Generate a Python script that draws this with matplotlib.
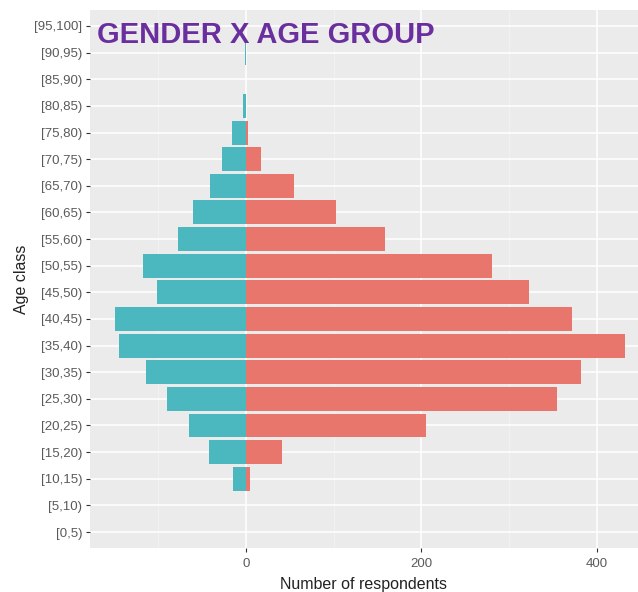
import matplotlib
matplotlib.use("Agg")
import matplotlib.pyplot as plt
import numpy as np

age_classes = ["[0,5)", "[5,10)", "[10,15)", "[15,20)", "[20,25)", "[25,30)", "[30,35)",
               "[35,40)", "[40,45)", "[45,50)", "[50,55)", "[55,60)", "[60,65)", "[65,70)",
               "[70,75)", "[75,80)", "[80,85)", "[85,90)", "[90,95)", "[95,100]"]
male = [0, 0, 15, 42, 65, 90, 114, 145, 150, 102, 117, 78, 61, 41, 27, 16, 3, 0, 1, 0]
female = [0, 0, 5, 41, 205, 355, 382, 432, 372, 323, 281, 159, 103, 55, 17, 2, 0, 0, 0, 0]
x_ticks = [0, 200, 400]
title = "GENDER X AGE GROUP"

plt.rcParams['font.family'] = ['Liberation Sans', 'DejaVu Sans']

fig = plt.figure(figsize=(6.38, 5.92), dpi=100)
W, H = 638, 592
left, right, top, bottom = 90, 638, 10, 548
ax = fig.add_axes([left / W, 1 - bottom / H, (right - left) / W, (bottom - top) / H])
ax.set_facecolor("#EBEBEB")

y = np.arange(len(age_classes))
ax.barh(y, [-m for m in male], height=0.9, color="#4BB8BF", zorder=3)
ax.barh(y, female, height=0.9, color="#E8766C", zorder=3)

ax.set_xlim(-178, 447)
ax.set_ylim(-0.6, len(age_classes) - 0.4)
ax.set_yticks(y)
ax.set_yticklabels(age_classes)
ax.set_xticks(x_ticks)
ax.set_xticklabels([str(t) for t in x_ticks])
ax.set_xticks([-100, 100, 300], minor=True)

ax.grid(which="major", color="white", linewidth=1.1, zorder=0)
ax.grid(which="minor", axis="x", color="#F4F4F4", linewidth=0.5, zorder=0)
ax.set_axisbelow(True)
for s in ax.spines.values():
    s.set_visible(False)
ax.tick_params(axis="both", which="major", colors="#333333", labelcolor="#5A5A5A",
               labelsize=9.5, length=3, width=0.8, pad=2.5)
ax.tick_params(axis="x", which="major", pad=4)
ax.tick_params(axis="x", which="minor", length=0)

ax.set_xlabel("Number of respondents", fontsize=11.5, color="#222222", labelpad=5)
ax.set_ylabel("Age class", fontsize=11.5, color="#222222", labelpad=4)

ax.text(0.013, 0.979, title, transform=ax.transAxes, ha="left", va="top",
        fontsize=21, fontweight="bold", color="#6A2E9E", zorder=5)

fig.savefig("out.png", dpi=100)
